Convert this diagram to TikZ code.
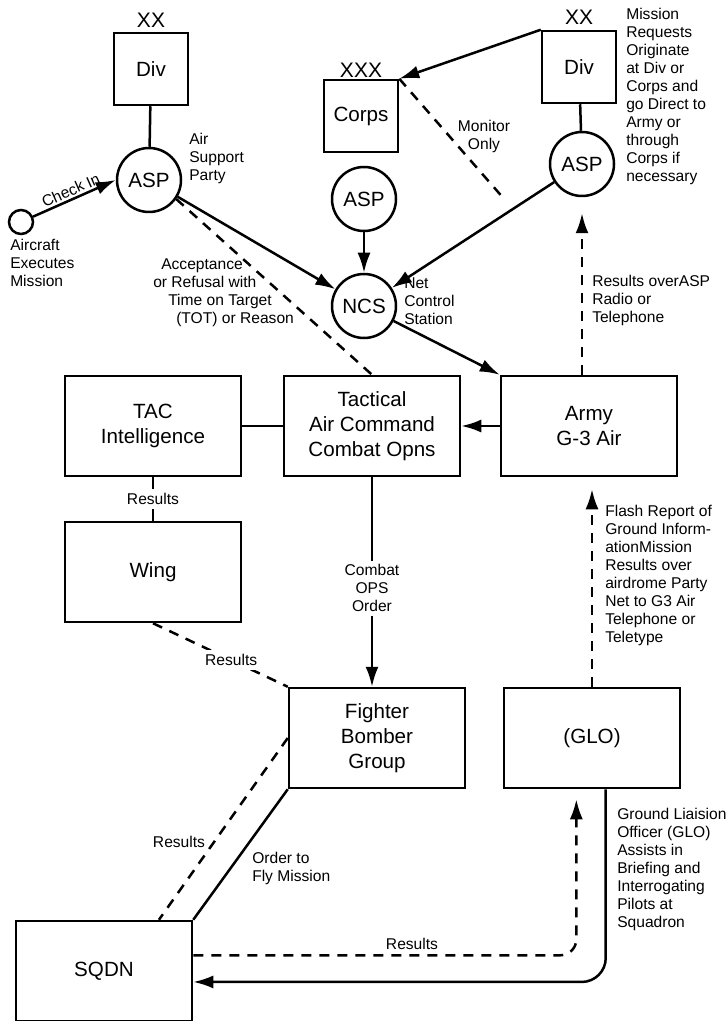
\documentclass[tikz,border=0pt]{standalone}
\usepackage{fontspec}
\setmainfont{Liberation Sans}
\usepackage{tikz}
\usetikzlibrary{arrows.meta}

\begin{document}
\begin{tikzpicture}[x=0.5pt, y=-0.5pt, >={Latex[length=10pt,width=6.5pt]},
  unit/.style ={draw, rectangle, minimum width=88pt, minimum height=50pt,
    inner sep=0pt, align=center, font=\fontsize{10.3}{12.5}\selectfont},
  %
  post/.style ={unit, minimum width=37pt, minimum height=36pt},
  %
  party/.style ={draw, circle, minimum size=32pt, inner sep=0pt,
    font=\fontsize{10.3}{12.5}\selectfont},
  %
  echelon/.style ={font=\fontsize{10.5}{12}\selectfont},
  note/.style ={align=left, inner sep=0pt, font=\fontsize{7.8}{9}\selectfont},
  report/.style ={dash pattern=on 5pt off 4pt} ]

  \tikzset{every path/.style={line width=1.25pt}}
  \useasboundingbox (0,0) rectangle (725,1021);

  \begin{scope}
    %%%%%%%%%%%%%%%%%%%%%%%%%%%%%%%
    \node [post] (divL) at (151,69) {Div};
    \node [echelon] (divLMark) at (151,20) {XX};
    \node [party] (aspL) at (149,180) {ASP};
    \node [draw, circle, minimum size=12pt, inner sep=0pt] (aircraft) at (21,222) {};
    \node [post] (corps) at (361,116) {Corps};
    \node [echelon] (corpsMark) at (361,70) {XXX};
    \node [party] (aspC) at (364,199) {ASP};
    \node [post] (divR) at (579,67) {Div};
    \node [echelon] (divRMark) at (579,17) {XX};
    \node [party] (aspR) at (582,164) {ASP};
    \node [party] (ncs) at (364,306) {NCS};
    %%%%%%%%%%%%%%%%%%%%%%%%%%%%%%%
    \node [unit] (tac) at (153,426) {TAC\\Intelligence};
    \node [unit] (tacOps) at (372,426) {Tactical\\Air Command\\Combat Opns};
    \node [unit] (army) at (589,426) {Army\\G-3 Air};
    \node [unit] (wing) at (153,572) {Wing};
    \node [unit] (fighter) at (377,738) {Fighter\\Bomber\\Group};
    \node [unit] (glo) at (592,738) {(GLO)};
    \node [unit] (sqdn) at (104,971) {SQDN};
    %%%%%%%%%%%%%%%%%%%%%%%%%%%%%%%
    \node [note, anchor=west] (aspLNote) at (188,158) {Air\\Support\\Party};
    \node [note, anchor=west] (aircraftNote) at (9,263) {Aircraft\\Executes\\Mission};
    \node [note, anchor=north west] (answerNote) at (152,258)
    {\hspace*{4pt}Acceptance\\or Refusal with\\\hspace*{7.5pt}Time on Target\\\hspace*{11.5pt}(TOT) or Reason};
    \node [note, anchor=west] (ncsNote) at (403,301) {Net\\Control\\Station};
    \node [note, align=center] (monitorNote) at (484,136) {Monitor\\Only};
    \node [note, anchor=west] (requestNote) at (625,96)
    {Mission\\Requests\\Originate\\at Div or\\Corps and\\go Direct to\\Army or\\through\\Corps if\\necessary};
    \node [note, anchor=west] (radioNote) at (591,300) {Results overASP\\Radio or\\Telephone};
    \node [note, anchor=west] (flashNote) at (604,575)
    {Flash Report of\\Ground Inform-\\ationMission\\Results over\\airdrome Party\\Net to G3 Air\\Telephone or\\Teletype};
    \node [note, anchor=west] (orderNote) at (251,868) {Order to\\Fly Mission};
    \node [note] (sqdnResults) at (179,842) {Results};
    \node [note] (gloResults) at (412,944) {Results};
    \node [note, anchor=west] (gloNote) at (616,869)
    {Ground Liaision\\Officer (GLO)\\Assists in\\Briefing and\\Interrogating\\Pilots at\\Squadron};
  \end{scope}

  \begin{scope}
    \draw (divL) -- (aspL);
    \draw (divR) -- (aspR);
    \draw [->] (aircraft) -- (aspL.west)
    node [midway, above=1pt, sloped, note] {Check In};
    \draw [->] (aspL) -- (ncs);
    \draw [->] (aspC) -- (ncs);
    \draw [->] (aspR) -- (ncs);
    \draw [->] (divR.north west) -- (corps.north east);
    \coordinate (monitorEnd) at (505,200);
    \draw [report] (corps.north east) -- (monitorEnd);
    \draw [report] (aspL.-35) -- (tacOps.north);
    \draw [->] (ncs) -- (army.north west);
    \draw [->, report, shorten >=8pt] (army.north -| aspR) -- (aspR);
    \draw [->] (army) -- (tacOps);
    \draw (tac) -- (tacOps);
    \draw (tac) -- (wing)
    node [midway, fill=white, note, inner sep=2pt] {Results};
    \draw [->] (tacOps.south) -- (tacOps.south |- fighter.north)
    node [pos=0.53, fill=white, note, align=center, inner sep=2pt] {Combat\\OPS\\Order};
    \draw [report] (wing.south) -- (fighter.north west)
    node [pos=0.58, fill=white, note, inner sep=2pt] {Results};
    \draw (fighter.south west) -- (sqdn.north east);
    \draw [report] (fighter.west) -- (sqdn.43);
    \draw [->, report, rounded corners=8pt, shorten >=5pt] (sqdn.10) -| (glo.-107);
    \draw [->, rounded corners=12pt] (glo.-75) |- (sqdn.-7);
    \draw [->, report, shorten >=6pt] (glo.north) -- (glo.north |- army.south);
  \end{scope}

\end{tikzpicture}
\end{document}
